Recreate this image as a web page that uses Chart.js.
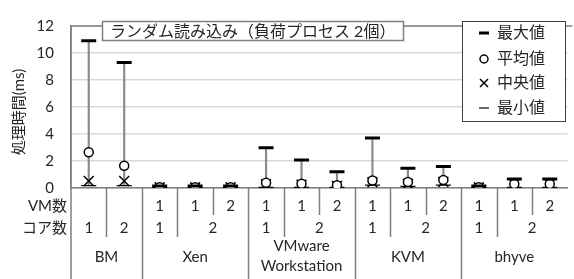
<!DOCTYPE html>
<html><head><meta charset="utf-8">
<script src="https://cdn.jsdelivr.net/npm/chart.js@4"></script>
<style>
html,body{margin:0;padding:0;background:#fff;overflow:hidden;width:574px;height:279px}
#wrap{position:relative;width:578px;height:279px}
canvas{display:block}
</style>
</head><body><div id="wrap"><canvas id="c" width="578" height="279" style="width:578px;height:279px"></canvas></div>
<script>
// ---- data ----
const categories = ['BM-1','BM-2','Xen-1','Xen-2','Xen-3','VMware-1','VMware-2','VMware-3','KVM-1','KVM-2','KVM-3','bhyve-1','bhyve-2','bhyve-3'];
const groupLabels = ['BM','BM','Xen','Xen','Xen','VMware\nWorkstation','VMware\nWorkstation','VMware\nWorkstation','KVM','KVM','KVM','bhyve','bhyve','bhyve'];
const vmCountLabels = ['','','1','1','2','1','1','2','1','1','2','1','1','2'];
const coreCountLabels = ['1','2','1','2','2','1','2','2','1','2','2','1','2','2'];
const maxValues    = [10.9, 9.3, 0.15, 0.15, 0.15, 2.98, 2.08, 1.2, 3.7, 1.46, 1.6, 0.15, 0.66, 0.66];
const meanValues   = [2.65, 1.65, 0.05, 0.05, 0.05, 0.38, 0.32, 0.2, 0.55, 0.45, 0.6, 0.05, 0.3, 0.3];
const medianValues = [0.52, 0.52, 0.05, 0.05, 0.05, 0.27, 0.25, 0.15, 0.42, 0.3, 0.45, 0.05, 0.28, 0.28];
const minValues    = [0.18, 0.18, 0.03, 0.03, 0.03, 0.05, 0.05, 0.05, 0.22, 0.12, 0.22, 0.03, 0.05, 0.05];
const yTicks = [0, 2, 4, 6, 8, 10, 12];
const titleText = 'ランダム読み込み（負荷プロセス 2個）';
const yTitle = '処理時間(ms)';
const legendLabels = ['最大値', '平均値', '中央値', '最小値'];
const rowHeaders = ['VM数', 'コア数'];

const FONT = 'Lato, "Noto Sans CJK JP", sans-serif';
const TXT = '#262626';

const overlay = {
  id: 'overlay',
  afterDraw(chart) {
    const ctx = chart.ctx, ca = chart.chartArea, xs = chart.scales.x;
    const H = chart.height;
    const px = i => xs.getPixelForValue(i);
    const bw = px(1) - px(0);
    ctx.save();
    // top border of plot
    ctx.strokeStyle = '#7f7f7f'; ctx.lineWidth = 1.5;
    ctx.beginPath(); ctx.moveTo(ca.left, ca.top); ctx.lineTo(ca.right + 5, ca.top); ctx.stroke();
    // left axis extended down
    ctx.beginPath(); ctx.moveTo(ca.left, ca.top); ctx.lineTo(ca.left, H); ctx.stroke();
    // separators
    for (let i = 0; i < categories.length - 1; i++) {
      const x = px(i) + bw / 2;
      let y2;
      if (groupLabels[i] !== groupLabels[i + 1]) y2 = H;
      else if (coreCountLabels[i] !== coreCountLabels[i + 1]) y2 = ca.bottom + 49;
      else y2 = ca.bottom + 27;
      ctx.beginPath(); ctx.moveTo(Math.round(x) + 0.5, ca.bottom); ctx.lineTo(Math.round(x) + 0.5, y2); ctx.stroke();
    }
    // labels
    ctx.fillStyle = TXT; ctx.textBaseline = 'middle';
    ctx.font = '15px ' + FONT;
    ctx.textAlign = 'right';
    ctx.fillText(rowHeaders[0], 67, ca.bottom + 18);
    ctx.fillText(rowHeaders[1], 67, ca.bottom + 40);
    ctx.textAlign = 'center';
    for (let i = 0; i < categories.length; i++) {
      ctx.fillText(vmCountLabels[i], px(i), ca.bottom + 18);
    }
    // core row (merged)
    let i = 0;
    while (i < categories.length) {
      let j = i;
      while (j + 1 < categories.length && groupLabels[j + 1] === groupLabels[i] && coreCountLabels[j + 1] === coreCountLabels[i]) j++;
      ctx.fillText(coreCountLabels[i], (px(i) + px(j)) / 2, ca.bottom + 40);
      i = j + 1;
    }
    // group row
    i = 0;
    while (i < categories.length) {
      let j = i;
      while (j + 1 < categories.length && groupLabels[j + 1] === groupLabels[i]) j++;
      const cx = (px(i) + px(j)) / 2;
      const lines = groupLabels[i].split('\n');
      if (lines.length === 1) ctx.fillText(lines[0], cx, ca.bottom + 69);
      else { ctx.fillText(lines[0], cx, ca.bottom + 58); ctx.fillText(lines[1], cx, ca.bottom + 78); }
      i = j + 1;
    }
    // y title
    ctx.save();
    ctx.translate(19, 112); ctx.rotate(-Math.PI / 2);
    ctx.fillText(yTitle, 0, 0);
    ctx.restore();
    // title box
    ctx.fillStyle = '#fff';
    ctx.fillRect(102, 21, 301, 19);
    ctx.strokeStyle = '#7f7f7f'; ctx.lineWidth = 1.5;
    ctx.strokeRect(102.5, 21.5, 301, 19);
    ctx.fillStyle = TXT; ctx.textAlign = 'left';
    ctx.font = '16px ' + FONT;
    ctx.fillText(titleText, 110, 31.5);
    // legend box
    ctx.fillStyle = '#fff';
    ctx.fillRect(462, 21, 103, 100);
    ctx.strokeStyle = '#404040'; ctx.lineWidth = 1;
    ctx.strokeRect(462.5, 21.5, 103, 100);
    const ly = [33, 59, 83, 108];
    ctx.font = '16px ' + FONT; ctx.fillStyle = TXT;
    legendLabels.forEach((t, k) => ctx.fillText(t, 497, ly[k]));
    ctx.strokeStyle = '#000';
    const mx = 484;
    ctx.lineWidth = 3; ctx.beginPath(); ctx.moveTo(mx - 5, ly[0]); ctx.lineTo(mx + 5, ly[0]); ctx.stroke();
    ctx.lineWidth = 1.5; ctx.beginPath(); ctx.arc(mx, ly[1], 4, 0, Math.PI * 2); ctx.stroke();
    ctx.beginPath(); ctx.moveTo(mx - 4, ly[2] - 4); ctx.lineTo(mx + 4, ly[2] + 4); ctx.moveTo(mx + 4, ly[2] - 4); ctx.lineTo(mx - 4, ly[2] + 4); ctx.stroke();
    ctx.lineWidth = 1.2; ctx.beginPath(); ctx.moveTo(mx - 5, ly[3]); ctx.lineTo(mx + 5, ly[3]); ctx.stroke();
    ctx.restore();
  }
};

const pt = (label, data, style, radius, bwid, fill, order) => ({
  type: 'line', label, data, showLine: false, order,
  pointStyle: style, pointRadius: radius, pointHoverRadius: radius,
  pointBorderColor: '#000', pointBackgroundColor: fill, pointBorderWidth: bwid, pointHoverBorderWidth: bwid
});

new Chart(document.getElementById('c'), {
  type: 'bar',
  data: {
    labels: categories,
    datasets: [
      { type: 'bar', label: 'range', data: minValues.map((v, k) => [v, maxValues[k]]), backgroundColor: '#8a8a8a', barThickness: 1.5, order: 10 },
      pt(legendLabels[3], minValues, 'line', 7.5, 1.3, '#000', 4),
      pt(legendLabels[2], medianValues, 'crossRot', 7, 1.5, '#000', 3),
      pt(legendLabels[1], meanValues, 'circle', 4.5, 1.5, '#fff', 2),
      pt(legendLabels[0], maxValues, 'line', 7.5, 3, '#000', 1)
    ]
  },
  options: {
    responsive: false, animation: false, devicePixelRatio: 1,
    layout: { padding: { top: 14, left: 0, right: 0, bottom: 0 } },
    plugins: { legend: { display: false }, tooltip: { enabled: false } },
    scales: {
      x: {
        ticks: { display: false },
        grid: { display: false, drawTicks: false },
        border: { display: true, color: '#7f7f7f', width: 1.5 },
        afterFit: s => { s.height = 91; }
      },
      y: {
        min: 0, max: 12,
        afterBuildTicks: s => { s.ticks = yTicks.map(v => ({ value: v })); },
        ticks: { font: { size: 15, family: FONT }, color: TXT, padding: 17 },
        grid: { color: '#d9d9d9', lineWidth: 1.5, drawTicks: false },
        border: { display: true, color: '#7f7f7f', width: 1.5 },
        afterFit: s => { s.width = 71; }
      }
    }
  },
  plugins: [overlay]
});
</script>
</body></html>
